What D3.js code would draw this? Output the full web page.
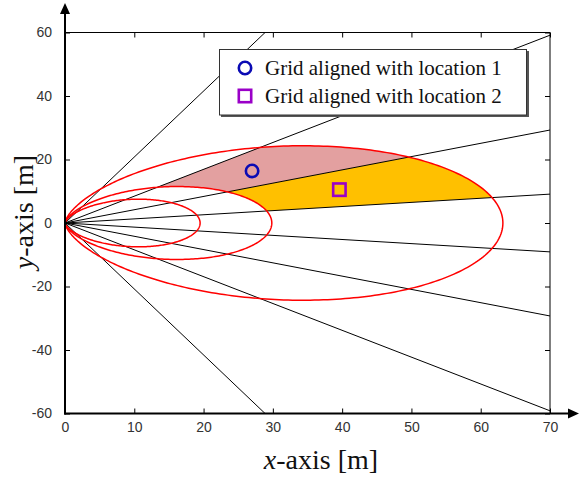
<!DOCTYPE html>
<html><head><meta charset="utf-8">
<script src="https://cdn.jsdelivr.net/npm/d3@7"></script>
<style>body{margin:0;background:#fff}svg{display:block}</style>
</head><body>
<svg id="chart" width="585" height="477"></svg>
<script>
// ---- data ----
const xTicks = [0, 10, 20, 30, 40, 50, 60, 70];
const yTicks = [-60, -40, -20, 0, 20, 40, 60];
const rayAnglesDeg = [64.3, 40.2, 22.7, 7.4, -7.4, -22.7, -40.2, -64.3];
// coverage contours (polar, r = R * cos^2(theta)), R = reach along x-axis [m]
const contourReach = [19.5, 29.85, 63.2];
// shaded sectors: angle range, inner contour index, outer contour index
const regionFrom = [22.7, 7.4];
const regionTo = [40.2, 22.7];
const regionInner = [1, 1];
const regionOuter = [2, 2];
const regionColors = ["#E3A0A0", "#FFC000"];
const markerLabels = ["Grid aligned with location 1", "Grid aligned with location 2"];
const markerX = [27.0, 39.6];
const markerY = [16.4, 10.5];
const markerShapes = ["circle", "square"];
const markerColors = ["#0A0AB4", "#9A00C8"];

// ---- layout ----
const svg = d3.select("#chart");
const x = d3.scaleLinear().domain([0, 70]).range([65, 550]);
const y = d3.scaleLinear().domain([-60, 60]).range([413.5, 32.5]);

svg.append("defs").append("clipPath").attr("id", "clip")
  .append("rect").attr("x", x(0)).attr("y", y(60))
  .attr("width", x(70) - x(0)).attr("height", y(-60) - y(60));

const rad = d => d * Math.PI / 180;
function contR(i, th) { const c = Math.cos(th); return contourReach[i] * c * c; }

const plot = svg.append("g").attr("clip-path", "url(#clip)");
const line = d3.line().x(p => x(p[0])).y(p => y(p[1]));

// shaded regions
regionFrom.forEach((f, k) => {
  const t0 = rad(f), t1 = rad(regionTo[k]);
  const n = 80, pts = [];
  for (let j = 0; j <= n; j++) {
    const th = t0 + (t1 - t0) * j / n, r = contR(regionOuter[k], th);
    pts.push([r * Math.cos(th), r * Math.sin(th)]);
  }
  for (let j = n; j >= 0; j--) {
    const th = t0 + (t1 - t0) * j / n, r = contR(regionInner[k], th);
    pts.push([r * Math.cos(th), r * Math.sin(th)]);
  }
  plot.append("path").attr("d", line(pts) + "Z")
    .attr("fill", regionColors[k]).attr("stroke", "none");
});

// rays
rayAnglesDeg.forEach(a => {
  const R = 200;
  plot.append("line")
    .attr("x1", x(0)).attr("y1", y(0))
    .attr("x2", x(R * Math.cos(rad(a)))).attr("y2", y(R * Math.sin(rad(a))))
    .attr("stroke", "#000").attr("stroke-width", 1);
});

// contours
contourReach.forEach((R, i) => {
  const pts = d3.range(-90, 90.01, 0.5).map(d => {
    const t = rad(d), r = contR(i, t);
    return [r * Math.cos(t), r * Math.sin(t)];
  });
  plot.append("path").attr("d", line(pts))
    .attr("fill", "none").attr("stroke", "#FF0000").attr("stroke-width", 1.5);
});

function drawMarker(g, shape, cx, cy, color) {
  if (shape === "circle") {
    g.append("circle").attr("cx", cx).attr("cy", cy).attr("r", 6.2)
      .attr("fill", "none").attr("stroke", color).attr("stroke-width", 2.6);
  } else {
    g.append("rect").attr("x", cx - 6.2).attr("y", cy - 6.2)
      .attr("width", 12.4).attr("height", 12.4)
      .attr("fill", "none").attr("stroke", color).attr("stroke-width", 2.6);
  }
}
markerX.forEach((mx, i) => drawMarker(svg, markerShapes[i], x(mx), y(markerY[i]), markerColors[i]));

// frame (top & right)
svg.append("line").attr("x1", x(0)).attr("x2", x(70)).attr("y1", y(60)).attr("y2", y(60))
  .attr("stroke", "#000").attr("stroke-width", 1);
svg.append("line").attr("x1", x(70)).attr("x2", x(70)).attr("y1", y(60)).attr("y2", y(-60))
  .attr("stroke", "#000").attr("stroke-width", 1);

// axes
const tickFont = "'Liberation Sans', Arial, sans-serif";
const fmt = d => String(d);
const xAxisB = svg.append("g").attr("transform", `translate(0,${y(-60)})`)
  .call(d3.axisBottom(x).tickValues(xTicks).tickFormat(fmt).tickSizeInner(-5).tickSizeOuter(0).tickPadding(9));
const xAxisT = svg.append("g").attr("transform", `translate(0,${y(60)})`)
  .call(d3.axisTop(x).tickValues(xTicks).tickSizeInner(-5).tickSizeOuter(0).tickFormat(""));
const yAxisL = svg.append("g").attr("transform", `translate(${x(0)},0)`)
  .call(d3.axisLeft(y).tickValues(yTicks).tickFormat(fmt).tickSizeInner(-5).tickSizeOuter(0).tickPadding(13));
const yAxisR = svg.append("g").attr("transform", `translate(${x(70)},0)`)
  .call(d3.axisRight(y).tickValues(yTicks).tickSizeInner(-5).tickSizeOuter(0).tickFormat(""));
[xAxisB, xAxisT, yAxisL, yAxisR].forEach(g => {
  g.select(".domain").remove();
  g.selectAll(".tick line").attr("stroke", "#000").attr("stroke-width", 1);
  g.selectAll("text").attr("font-family", tickFont).attr("font-size", 14).attr("fill", "#333");
});

// main axis lines with arrows
svg.append("line").attr("x1", x(0)).attr("x2", x(0)).attr("y1", y(-60) + 1).attr("y2", 12)
  .attr("stroke", "#000").attr("stroke-width", 2);
svg.append("path").attr("d", `M${x(0)},3 L${x(0) - 5},14 L${x(0) + 5},14 Z`).attr("fill", "#000");
svg.append("line").attr("x1", x(0) - 1).attr("x2", 570).attr("y1", y(-60)).attr("y2", y(-60))
  .attr("stroke", "#000").attr("stroke-width", 2);
svg.append("path").attr("d", `M579,${y(-60)} L568,${y(-60) - 5} L568,${y(-60) + 5} Z`).attr("fill", "#000");

// axis labels
const serif = "'Liberation Serif', 'Times New Roman', serif";
const xl = svg.append("text").attr("x", 321).attr("y", 469).attr("text-anchor", "middle")
  .attr("font-family", serif).attr("font-size", 28).attr("fill", "#111");
xl.append("tspan").attr("font-style", "italic").text("x");
xl.append("tspan").text("-axis [m]");
const yl = svg.append("text").attr("transform", "translate(33,212) rotate(-90)").attr("text-anchor", "middle")
  .attr("font-family", serif).attr("font-size", 28).attr("fill", "#111");
yl.append("tspan").attr("font-style", "italic").text("y");
yl.append("tspan").text("-axis [m]");

// legend
const lg = svg.append("g");
lg.append("rect").attr("x", 221).attr("y", 51).attr("width", 308).attr("height", 66).attr("fill", "#555");
lg.append("rect").attr("x", 219.5).attr("y", 49.5).attr("width", 307).attr("height", 65.5)
  .attr("fill", "#fff").attr("stroke", "#333").attr("stroke-width", 1);
markerLabels.forEach((t, i) => {
  const cy = 68 + i * 28;
  drawMarker(lg, markerShapes[i], 245, cy, markerColors[i]);
  lg.append("text").attr("x", 265).attr("y", cy + 7).attr("font-family", serif)
    .attr("font-size", 21).attr("fill", "#111").text(t);
});
</script>
</body></html>
